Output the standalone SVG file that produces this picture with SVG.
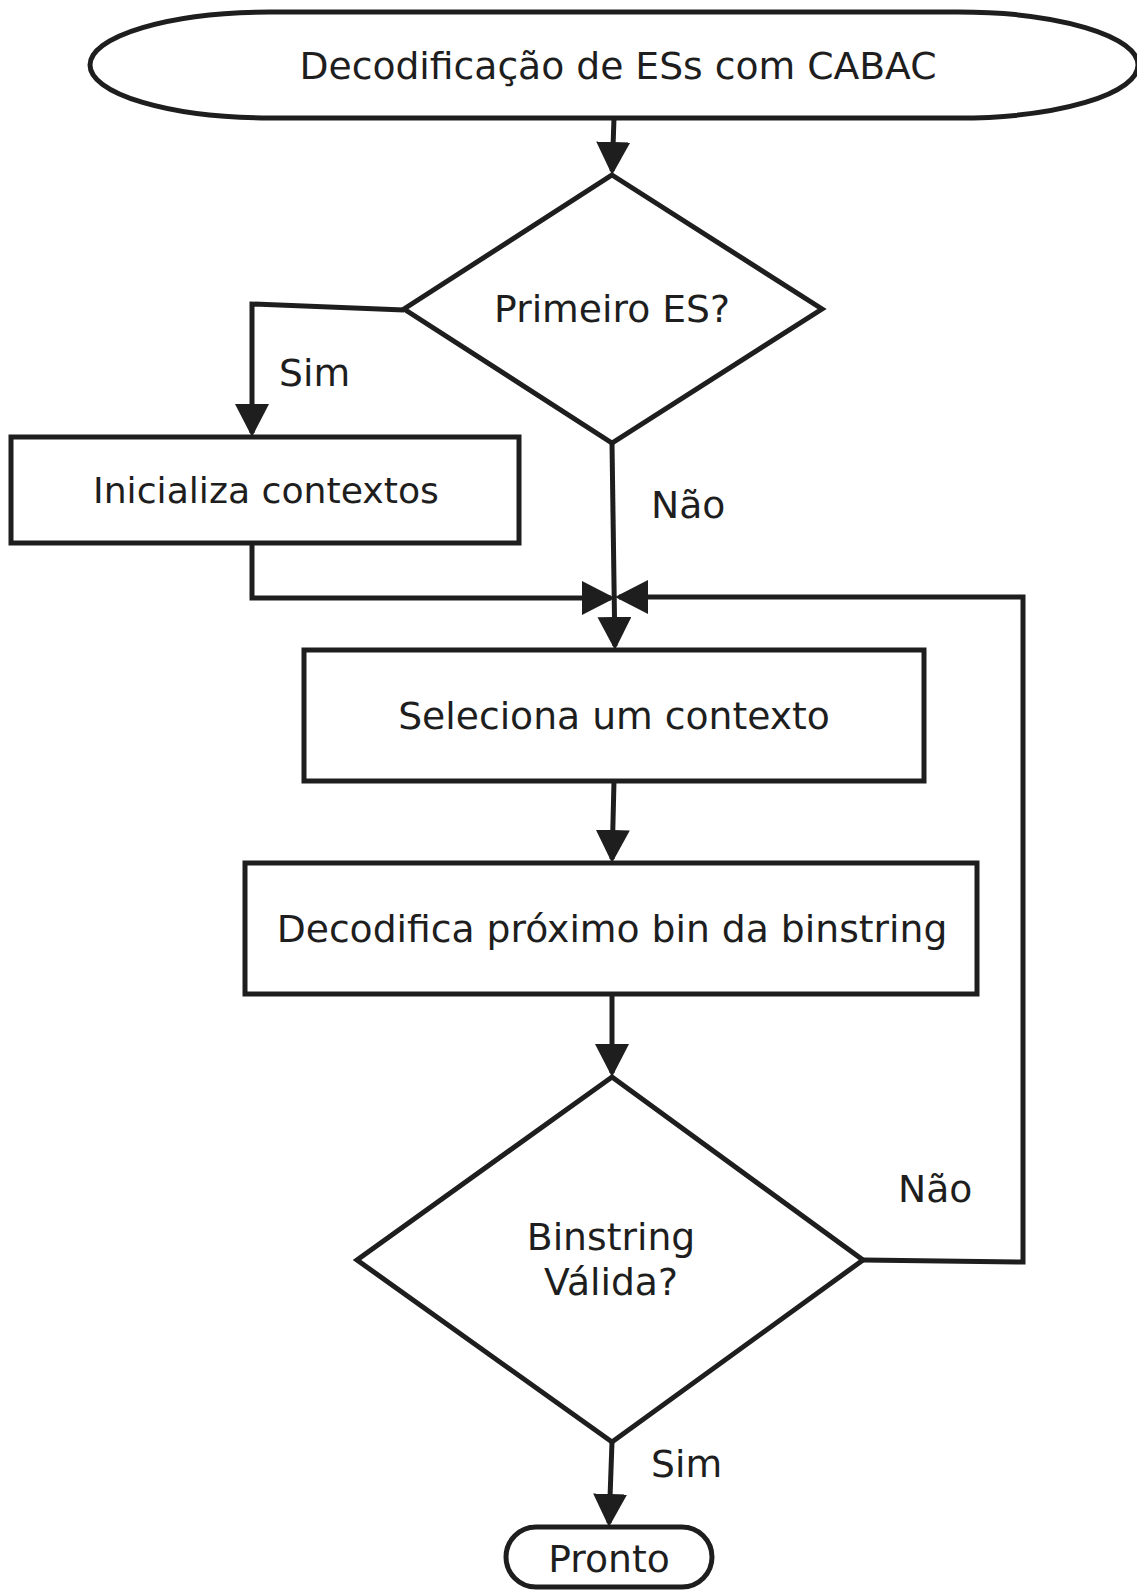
<svg xmlns="http://www.w3.org/2000/svg" width="1137" height="1590" viewBox="0 0 1137 1590">
  <style>
    .shape { fill: #ffffff; stroke: #1e1e1e; stroke-width: 5; }
    .edge { fill: none; stroke: #1e1e1e; stroke-width: 5; stroke-linejoin: miter; }
    .lbl { font-family: "DejaVu Sans", "Liberation Sans", sans-serif; font-size: 37.7px; fill: #1e1e1e; }
    .small { font-size: 36.2px; }
    .mid { text-anchor: middle; }
  </style>
  <defs>
    <marker id="arrow" markerUnits="userSpaceOnUse" markerWidth="33" markerHeight="34" refX="29" refY="17" orient="auto">
      <path d="M0,0 L33,17 L0,34 Z" fill="#1e1e1e"/>
    </marker>
  </defs>
  <rect width="1137" height="1590" fill="#ffffff"/>

  <!-- connectors -->
  <g id="connectors">
    <path class="edge" d="M614,118 L612.2,171" marker-end="url(#arrow)"/>
    <path class="edge" d="M404,310 L252,304 L252,433" marker-end="url(#arrow)"/>
    <path class="edge" d="M252,543 L252,598 L611,598" marker-end="url(#arrow)"/>
    <path class="edge" d="M612,443 L614.9,646" marker-end="url(#arrow)"/>
    <path class="edge" d="M863,1260 L1023,1262 L1023,597 L619,597" marker-end="url(#arrow)"/>
    <path class="edge" d="M614,781 L612.1,859" marker-end="url(#arrow)"/>
    <path class="edge" d="M612,994 L612,1073" marker-end="url(#arrow)"/>
    <path class="edge" d="M612,1442 L609.1,1523" marker-end="url(#arrow)"/>
  </g>

  <!-- edge labels -->
  <g id="edge-labels">
    <text class="lbl" x="279" y="386">Sim</text>
    <text class="lbl" x="651" y="518">Não</text>
    <text class="lbl" x="898" y="1202">Não</text>
    <text class="lbl" x="651" y="1477">Sim</text>
  </g>

  <g id="start">
    <rect class="shape" x="90" y="12" width="1048" height="106" rx="180" ry="53"/>
    <text class="lbl mid" x="618" y="79">Decodificação de ESs com CABAC</text>
  </g>

  <g id="first-es">
    <polygon class="shape" points="612,175 822,309 612,443 404,309"/>
    <text class="lbl mid" x="612" y="322">Primeiro ES?</text>
  </g>

  <g id="init-contexts">
    <rect class="shape" x="11" y="437" width="508" height="106"/>
    <text class="lbl small mid" x="266" y="503">Inicializa contextos</text>
  </g>

  <g id="select-context">
    <rect class="shape" x="304" y="650" width="620" height="131"/>
    <text class="lbl mid" x="614" y="729">Seleciona um contexto</text>
  </g>

  <g id="decode-bin">
    <rect class="shape" x="245" y="863" width="732" height="131"/>
    <text class="lbl mid" x="612" y="942">Decodifica próximo bin da binstring</text>
  </g>

  <g id="valid-binstring">
    <polygon class="shape" points="612,1077 863,1260 612,1442 357,1260"/>
    <text class="lbl mid" x="611" y="1250">Binstring</text>
    <text class="lbl mid" x="611" y="1295">Válida?</text>
  </g>

  <g id="done">
    <rect class="shape" x="506" y="1527" width="206" height="60" rx="30" ry="30"/>
    <text class="lbl mid" x="609" y="1572">Pronto</text>
  </g>
</svg>
